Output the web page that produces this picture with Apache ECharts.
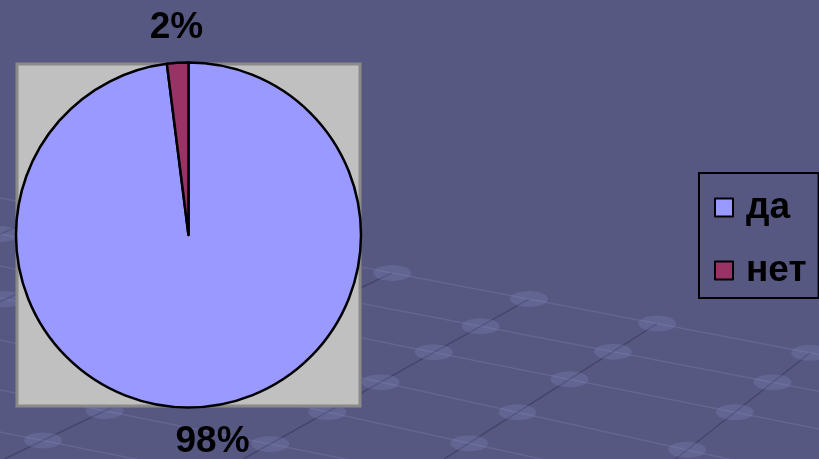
<!DOCTYPE html>
<html>
<head>
<meta charset="utf-8">
<script src="https://cdn.jsdelivr.net/npm/echarts@6/dist/echarts.min.js"></script>
<style>
  html, body { margin: 0; padding: 0; background: #565882; }
  #chart { width: 819px; height: 459px; }
</style>
</head>
<body>
<div id="chart"></div>
<script>
// Answer shares (percent)
const categories = ['да', 'нет'];
const values = [98, 2];
const sliceColors = ['#9999ff', '#993366'];

// Slide backdrop: a faint perspective grid (light rails, dark crossbars)
const railLines = [   // [y at x=0, slope]
  [198, 0.191], [234, 0.192], [266, 0.199], [298, 0.221], [340, 0.22], [390, 0.2], [432, 0.2]
];
const crossLines = [  // [x, y] anchor, slope
  [[5, 232], -0.45], [[8, 298], -0.45], [[392, 273], -0.48],
  [[397, 373], -0.56], [[463, 447], -0.636], [[687, 450], -0.79]
];

function buildBackdrop() {
  const els = [];
  railLines.forEach(([y0, k]) => {
    els.push({ type: 'line', z: 0, silent: true,
      shape: { x1: 0, y1: y0, x2: 819, y2: y0 + k * 819 },
      style: { stroke: 'rgba(150,152,200,0.22)', lineWidth: 1.5 } });
  });
  crossLines.forEach(([[ax, ay], k]) => {
    // run from bottom edge up to the first rail
    const r = railLines[0];
    const xTop = (r[0] - ay + k * ax) / (k - r[1]);
    const yTop = r[0] + r[1] * xTop;
    const xBot = ax + (459 - ay) / k;
    els.push({ type: 'line', z: 0, silent: true,
      shape: { x1: xBot, y1: 459, x2: xTop, y2: yTop },
      style: { stroke: 'rgba(40,40,70,0.38)', lineWidth: 1.5 } });
    railLines.forEach(([y0, kk]) => {
      const xi = (y0 - ay + k * ax) / (k - kk);
      const yi = y0 + kk * xi;
      if (yi <= 470 && yi >= yTop - 1) {
        els.push({ type: 'ellipse', z: 0, silent: true,
          shape: { cx: xi, cy: yi, rx: 19, ry: 8 },
          style: { fill: 'rgba(140,142,195,0.24)' } });
      }
    });
  });
  // plot area
  els.push({ type: 'rect', z: 1, silent: true,
    shape: { x: 17, y: 64, width: 343, height: 342 },
    style: { fill: '#c0c0c0', stroke: '#8a8a8a', lineWidth: 3 } });
  return els;
}

const chart = echarts.init(document.getElementById('chart'), null, { renderer: 'canvas' });
chart.setOption({
  backgroundColor: '#565882',
  animation: false,
  graphic: buildBackdrop(),
  legend: {
    orient: 'vertical',
    left: 699, top: 173,
    padding: [16, 12, 9, 15],
    itemGap: 26,
    itemWidth: 18, itemHeight: 18,
    icon: 'rect',
    borderColor: '#000', borderWidth: 2,
    textStyle: {
      fontFamily: 'Liberation Sans, Arial, sans-serif',
      fontSize: 37, fontWeight: 'bold', color: '#000',
      padding: [0, 0, 0, 8]
    },
    data: categories
  },
  series: [{
    type: 'pie',
    center: [188.5, 235],
    radius: 172.5,
    startAngle: 90,
    clockwise: true,
    avoidLabelOverlap: false,
    itemStyle: { borderColor: '#000', borderWidth: 2.5 },
    label: {
      show: true,
      position: 'outside',
      formatter: '{c}%',
      distanceToLabelLine: 0,
      fontFamily: 'Liberation Sans, Arial, sans-serif',
      fontSize: 37, fontWeight: 'bold', color: '#000'
    },
    labelLine: { show: false, length: 35, length2: 0 },
    labelLayout: function (p) {
      return { align: 'center', verticalAlign: 'middle', dx: p.dataIndex === 0 ? 11 : 1 };
    },
    emphasis: { disabled: true },
    data: categories.map((c, i) => ({
      name: c, value: values[i], itemStyle: { color: sliceColors[i] }
    }))
  }]
});
</script>
</body>
</html>
